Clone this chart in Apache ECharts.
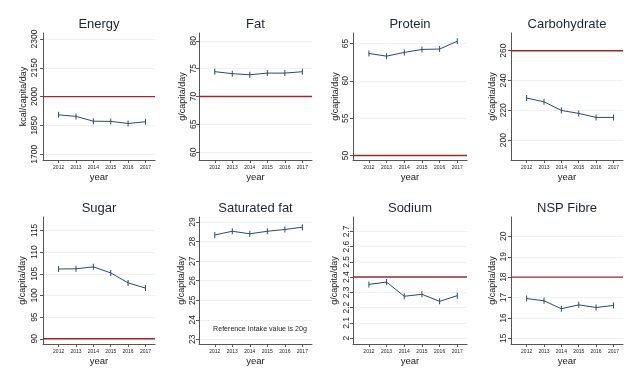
<!DOCTYPE html>
<html>
<head>
<meta charset="utf-8">
<script src="https://cdn.jsdelivr.net/npm/echarts@6/dist/echarts.min.js"></script>
<style>
html, body { margin: 0; padding: 0; background: #fff; }
#main { width: 640px; height: 384px; }
</style>
</head>
<body>
<div id="main"></div>
<script>
// data
var years = [2012, 2013, 2014, 2015, 2016, 2017];

var energy = [1905, 1897, 1872, 1871, 1860, 1869];
var fat = [74.46, 74.1, 73.9, 74.2, 74.2, 74.45];
var protein = [63.66, 63.3, 63.8, 64.2, 64.25, 65.3];
var carbohydrate = [228.2, 225.7, 219.9, 217.9, 215.2, 215.2];
var sugar = [106.1, 106.15, 106.6, 105.2, 102.9, 101.7];
var saturatedFat = [28.34, 28.53, 28.4, 28.53, 28.62, 28.74];
var sodium = [2.352, 2.367, 2.274, 2.287, 2.241, 2.278];
var nspFibre = [16.95, 16.84, 16.45, 16.64, 16.51, 16.61];

var energyTicks = [1700, 1850, 2000, 2150, 2300];
var fatTicks = [60, 65, 70, 75, 80];
var proteinTicks = [50, 55, 60, 65];
var carbohydrateTicks = [200, 220, 240, 260];
var sugarTicks = [90, 95, 100, 105, 110, 115];
var saturatedFatTicks = [23, 24, 25, 26, 27, 28, 29];
var sodiumTicks = [2, 2.1, 2.2, 2.3, 2.4, 2.5, 2.6, 2.7];
var nspFibreTicks = [15, 16, 17, 18, 19, 20];

var titles = ['Energy', 'Fat', 'Protein', 'Carbohydrate', 'Sugar', 'Saturated fat', 'Sodium', 'NSP Fibre'];
var units = ['kcal/capita/day', 'g/capita/day', 'g/capita/day', 'g/capita/day', 'g/capita/day', 'g/capita/day', 'g/capita/day', 'g/capita/day'];
var referenceValues = [2000, 70, 50, 260, 90, null, 2.4, 18];
var satFatNote = 'Reference Intake value is 20g';

var xMin = 2011.1, xMax = 2017.55;

var panels = [
	{ data: energy, ticks: energyTicks, min: 1670, max: 2331, nameGap: 15, labelMargin: 4 },
	{ data: fat, ticks: fatTicks, min: 58.6, max: 81.4, nameGap: 12, labelMargin: 1 },
	{ data: protein, ticks: proteinTicks, min: 49.4, max: 66.4, nameGap: 13, labelMargin: 3 },
	{ data: carbohydrate, ticks: carbohydrateTicks, min: 186.6, max: 271.9, nameGap: 13.5, labelMargin: 3 },
	{ data: sugar, ticks: sugarTicks, min: 88.8, max: 118.1, nameGap: 15.5, labelMargin: 4 },
	{ data: saturatedFat, ticks: saturatedFatTicks, min: 22.76, max: 29.26, nameGap: 13, labelMargin: 1.5 },
	{ data: sodium, ticks: sodiumTicks, min: 1.961, max: 2.794, nameGap: 14, labelMargin: 2 },
	{ data: nspFibre, ticks: nspFibreTicks, min: 14.72, max: 20.95, nameGap: 13.5, labelMargin: 3 }
];

// layout
var colLeft = [43, 199, 353, 511];
var colRight = [155, 312, 467, 623];
var rowTop = [33, 217];
var plotH = 127;

var lineColor = '#2d4a68';
var refColor = '#a3262f';
var axisColor = '#555';
var textColor = '#222';
var font = 'Liberation Sans, Arial, sans-serif';
var narrowFont = 'Liberation Sans Narrow, Liberation Sans, Arial, sans-serif';

var chartDom = document.getElementById('main');
var myChart = echarts.init(chartDom);

var grid = [], xAxis = [], yAxis = [], series = [], title = [];

panels.forEach(function (p, i) {
	var c = i % 4, r = Math.floor(i / 4);
	var left = colLeft[c], right = colRight[c], top = rowTop[r];
	grid.push({ left: left, top: top, width: right - left, height: plotH });
	title.push({
		text: titles[i],
		left: (left + right) / 2,
		top: top - 15,
		textAlign: 'center',
		padding: 0,
		textStyle: { fontFamily: font, fontSize: 13, fontWeight: 'normal', color: '#1f2535' }
	});
	xAxis.push({
		gridIndex: i,
		type: 'value',
		min: xMin,
		max: xMax,
		name: 'year',
		nameLocation: 'middle',
		nameGap: 12,
		nameMoveOverlap: false,
		nameTextStyle: { fontFamily: font, fontSize: 9.5, color: textColor },
		axisLine: { show: true, lineStyle: { color: axisColor, width: 1 } },
		axisTick: { show: true, length: 3, customValues: years, lineStyle: { color: axisColor } },
		axisLabel: { customValues: years, fontSize: 5, margin: 5, color: textColor, fontFamily: font, formatter: function (v) { return String(v); } },
		splitLine: { show: false }
	});
	yAxis.push({
		gridIndex: i,
		type: 'value',
		min: p.min,
		max: p.max,
		name: units[i],
		nameLocation: 'middle',
		nameGap: p.nameGap,
		nameMoveOverlap: false,
		nameTextStyle: { fontFamily: font, fontSize: 9, color: textColor },
		axisLine: { show: true, lineStyle: { color: axisColor, width: 1 } },
		axisTick: { show: true, length: 3, customValues: p.ticks, lineStyle: { color: axisColor } },
		axisLabel: { customValues: p.ticks, rotate: 90, fontSize: 8.5, margin: p.labelMargin, color: textColor, fontFamily: narrowFont, formatter: function (v) { return String(v); } },
		splitLine: { show: true, lineStyle: { color: '#edf2f3', width: 1 } }
	});
	// reference intake line
	if (referenceValues[i] !== null) {
		series.push({
			type: 'line',
			xAxisIndex: i,
			yAxisIndex: i,
			data: [[xMin, referenceValues[i]], [xMax, referenceValues[i]]],
			showSymbol: false,
			symbol: 'none',
			lineStyle: { color: refColor, width: 1.4 },
			itemStyle: { color: refColor },
			silent: true,
			z: 3
		});
	}
	series.push({
		type: 'line',
		xAxisIndex: i,
		yAxisIndex: i,
		data: years.map(function (y, k) { return [y, p.data[k]]; }),
		symbol: 'rect',
		symbolSize: [1, 6],
		showSymbol: true,
		lineStyle: { color: lineColor, width: 1 },
		itemStyle: { color: lineColor },
		silent: true,
		z: 2
	});
});

var option = {
	backgroundColor: '#fff',
	animation: false,
	title: title,
	grid: grid,
	xAxis: xAxis,
	yAxis: yAxis,
	series: series,
	graphic: [{
		type: 'text',
		x: 260,
		y: 329,
		style: { text: satFatNote, fontFamily: font, fontSize: 7.1, fill: textColor, align: 'center', verticalAlign: 'middle' }
	}]
};

option && myChart.setOption(option);
window.addEventListener('resize', function () {
	myChart.resize();
});
</script>
</body>
</html>
